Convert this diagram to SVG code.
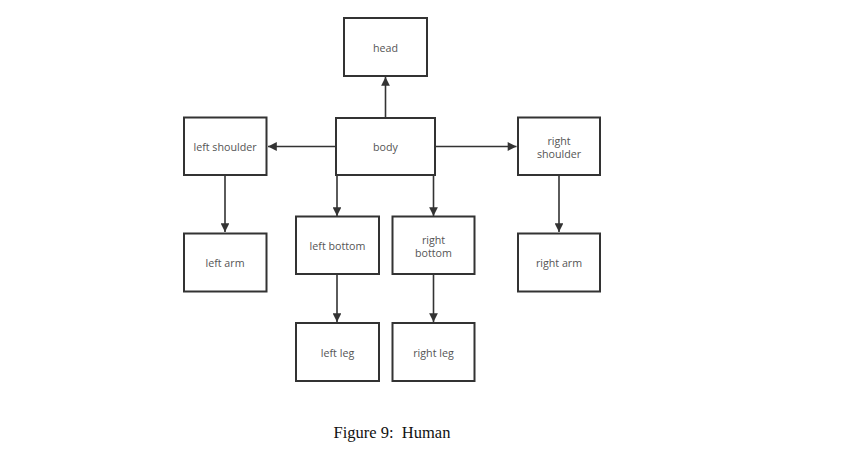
<svg xmlns="http://www.w3.org/2000/svg" width="851" height="456" viewBox="0 0 851 456">
<defs>
<marker id="arr" viewBox="0 0 10 10" refX="10" refY="5" markerWidth="6" markerHeight="5.5" markerUnits="strokeWidth" orient="auto">
<path d="M0,0 L10,5 L0,10 Z" fill="#333"/>
</marker>
<style>
.box{fill:#fff;stroke:#333;stroke-width:2}
.lbl{font-family:"Open Sans","Noto Sans",sans-serif;font-size:10.7px;fill:#555;text-anchor:middle}
.edge{stroke:#333;stroke-width:1.6;fill:none;marker-end:url(#arr)}
.cap{font-family:"Liberation Serif",serif;font-size:16.5px;fill:#111;text-anchor:middle}
</style>
</defs>
<rect width="851" height="456" fill="#fff"/>
<g id="connectors">
<line class="edge" x1="385.5" y1="118" x2="385.5" y2="77"/>
<line class="edge" x1="336" y1="146.5" x2="268" y2="146.5"/>
<line class="edge" x1="435" y1="146.5" x2="516.5" y2="146.5"/>
<line class="edge" x1="225" y1="175" x2="225" y2="232"/>
<line class="edge" x1="337" y1="175" x2="337" y2="216"/>
<line class="edge" x1="433.5" y1="175" x2="433.5" y2="216"/>
<line class="edge" x1="337" y1="274" x2="337" y2="322"/>
<line class="edge" x1="433.5" y1="274" x2="433.5" y2="322"/>
<line class="edge" x1="559" y1="175" x2="559" y2="232"/>
</g>
<g id="head"><rect class="box" x="344" y="18" width="83" height="58"/><text class="lbl" x="385.5" y="51.5">head</text></g>
<g id="body"><rect class="box" x="336" y="118" width="99" height="57"/><text class="lbl" x="385.5" y="150.5">body</text></g>
<g id="left-shoulder"><rect class="box" x="184" y="117.5" width="82.5" height="57.5"/><text class="lbl" x="225" y="150.5">left shoulder</text></g>
<g id="right-shoulder"><rect class="box" x="518" y="117.5" width="82" height="57.5"/><text class="lbl" x="559" y="144.5">right</text><text class="lbl" x="559" y="157.5">shoulder</text></g>
<g id="left-arm"><rect class="box" x="184" y="233.5" width="82.5" height="58"/><text class="lbl" x="225" y="267">left arm</text></g>
<g id="right-arm"><rect class="box" x="518" y="233.5" width="82" height="58"/><text class="lbl" x="559" y="267">right arm</text></g>
<g id="left-bottom"><rect class="box" x="296" y="216.5" width="83" height="57.5"/><text class="lbl" x="337.5" y="250">left bottom</text></g>
<g id="right-bottom"><rect class="box" x="392.5" y="216.5" width="82" height="57.5"/><text class="lbl" x="433.5" y="243.5">right</text><text class="lbl" x="433.5" y="256.5">bottom</text></g>
<g id="left-leg"><rect class="box" x="296" y="323" width="83" height="58"/><text class="lbl" x="337.5" y="356.5">left leg</text></g>
<g id="right-leg"><rect class="box" x="392.5" y="323" width="82" height="58"/><text class="lbl" x="433.5" y="356.5">right leg</text></g>
<text class="cap" x="392" y="437.5">Figure 9:&#160; Human</text>
</svg>
